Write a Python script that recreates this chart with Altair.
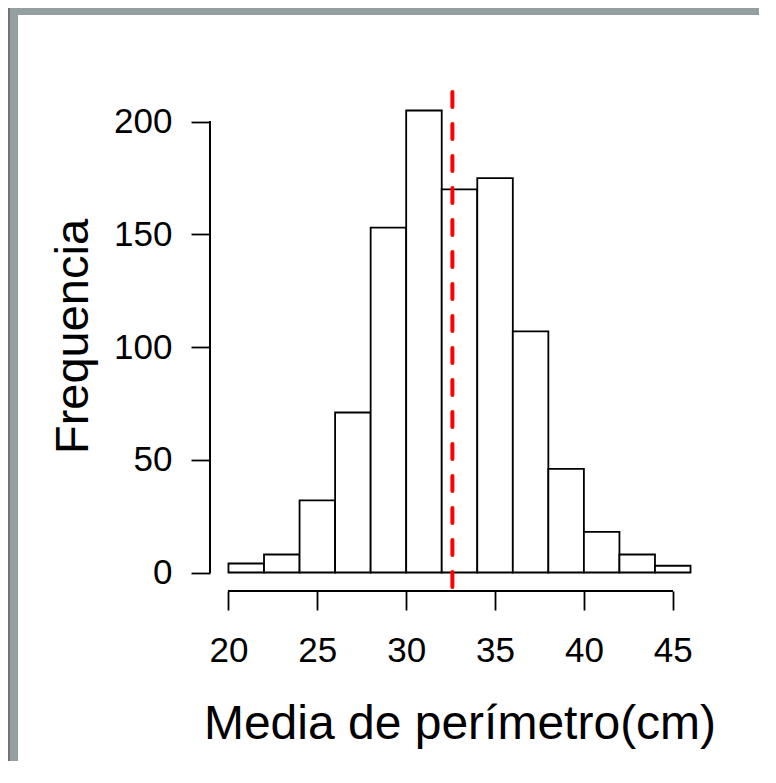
import altair as alt
import pandas as pd

bin_start = [20, 22, 24, 26, 28, 30, 32, 34, 36, 38, 40, 42, 44]
bin_end = [22, 24, 26, 28, 30, 32, 34, 36, 38, 40, 42, 44, 46]
counts = [4, 8, 32, 71, 153, 205, 170, 175, 107, 46, 18, 8, 3]
mean_value = 32.6
x_ticks = [20, 25, 30, 35, 40, 45]
y_ticks = [0, 50, 100, 150, 200]

df = pd.DataFrame({"start": bin_start, "end": bin_end, "count": counts})

W, H = 499, 499
FONT = "Liberation Sans"
xscale = alt.Scale(domain=[18.96, 47.04], nice=False, zero=False)
yscale = alt.Scale(domain=[-8.2, 213.2], nice=False, zero=False)

bars = alt.Chart(df).mark_rect(fill="white", stroke="black", strokeWidth=1.8).encode(
    x=alt.X("start:Q", scale=xscale,
            axis=alt.Axis(values=x_ticks, domain=False, grid=False, tickSize=19,
                          tickWidth=1.8, tickColor="black", labelFontSize=35,
                          labelFont=FONT, labelColor="black", labelBaseline="alphabetic",
                          labelPadding=51, title="Media de perímetro(cm)",
                          titleFont=FONT, titleFontSize=48, titleFontWeight="normal",
                          titleColor="black", titleBaseline="alphabetic", titleY=147)),
    x2="end:Q",
    y=alt.Y("count:Q", scale=yscale,
            axis=alt.Axis(values=y_ticks, domain=False, grid=False, tickSize=19,
                          tickWidth=1.8, tickColor="black", labelFontSize=35,
                          labelFont=FONT, labelColor="black", labelPadding=19,
                          labelBaseline="middle", title="Frequencia",
                          titleFont=FONT, titleFontSize=47, titleFontWeight="normal",
                          titleColor="black", titleBaseline="alphabetic",
                          titleAngle=270, titleX=-123, titleY=244)),
    y2=alt.datum(0),
)

yline = alt.Chart(df).mark_rule(color="black", strokeWidth=1.8).encode(
    x=alt.value(0), y=alt.datum(y_ticks[0], scale=yscale), y2=alt.datum(y_ticks[-1])
)
xline = alt.Chart(df).mark_rule(color="black", strokeWidth=1.8).encode(
    y=alt.value(H), x=alt.datum(x_ticks[0], scale=xscale), x2=alt.datum(x_ticks[-1])
)

mean_df = pd.DataFrame({"m": [mean_value]})
mean_line = alt.Chart(mean_df).mark_rule(
    color="#ff0000", strokeWidth=4, strokeDash=[15, 17], strokeCap="round"
).encode(x=alt.X("m:Q", scale=xscale))

# decorative frame strips
frame = pd.DataFrame({"k": [0]})
strip_left = alt.Chart(frame).mark_rect(color="#93a09f").encode(
    x=alt.value(-200), x2=alt.value(-192), y=alt.value(-84), y2=alt.value(H + 170))
strip_top = alt.Chart(frame).mark_rect(color="#93a09f").encode(
    x=alt.value(-200), x2=alt.value(W + 50), y=alt.value(-84), y2=alt.value(-77))
strip_dark = alt.Chart(frame).mark_rect(color="#737373").encode(
    x=alt.value(-202), x2=alt.value(-200), y=alt.value(-84), y2=alt.value(H + 170))

chart = alt.layer(
    strip_left, strip_top, strip_dark, bars, yline, xline, mean_line
).properties(
    width=W, height=H,
    autosize=alt.AutoSizeParams(type="none"),
    padding={"left": 202, "top": 84, "right": 50, "bottom": 170},
    background="white",
).configure_view(stroke=None)

chart.save("out.html", embed_options={"renderer": "svg", "actions": False})
